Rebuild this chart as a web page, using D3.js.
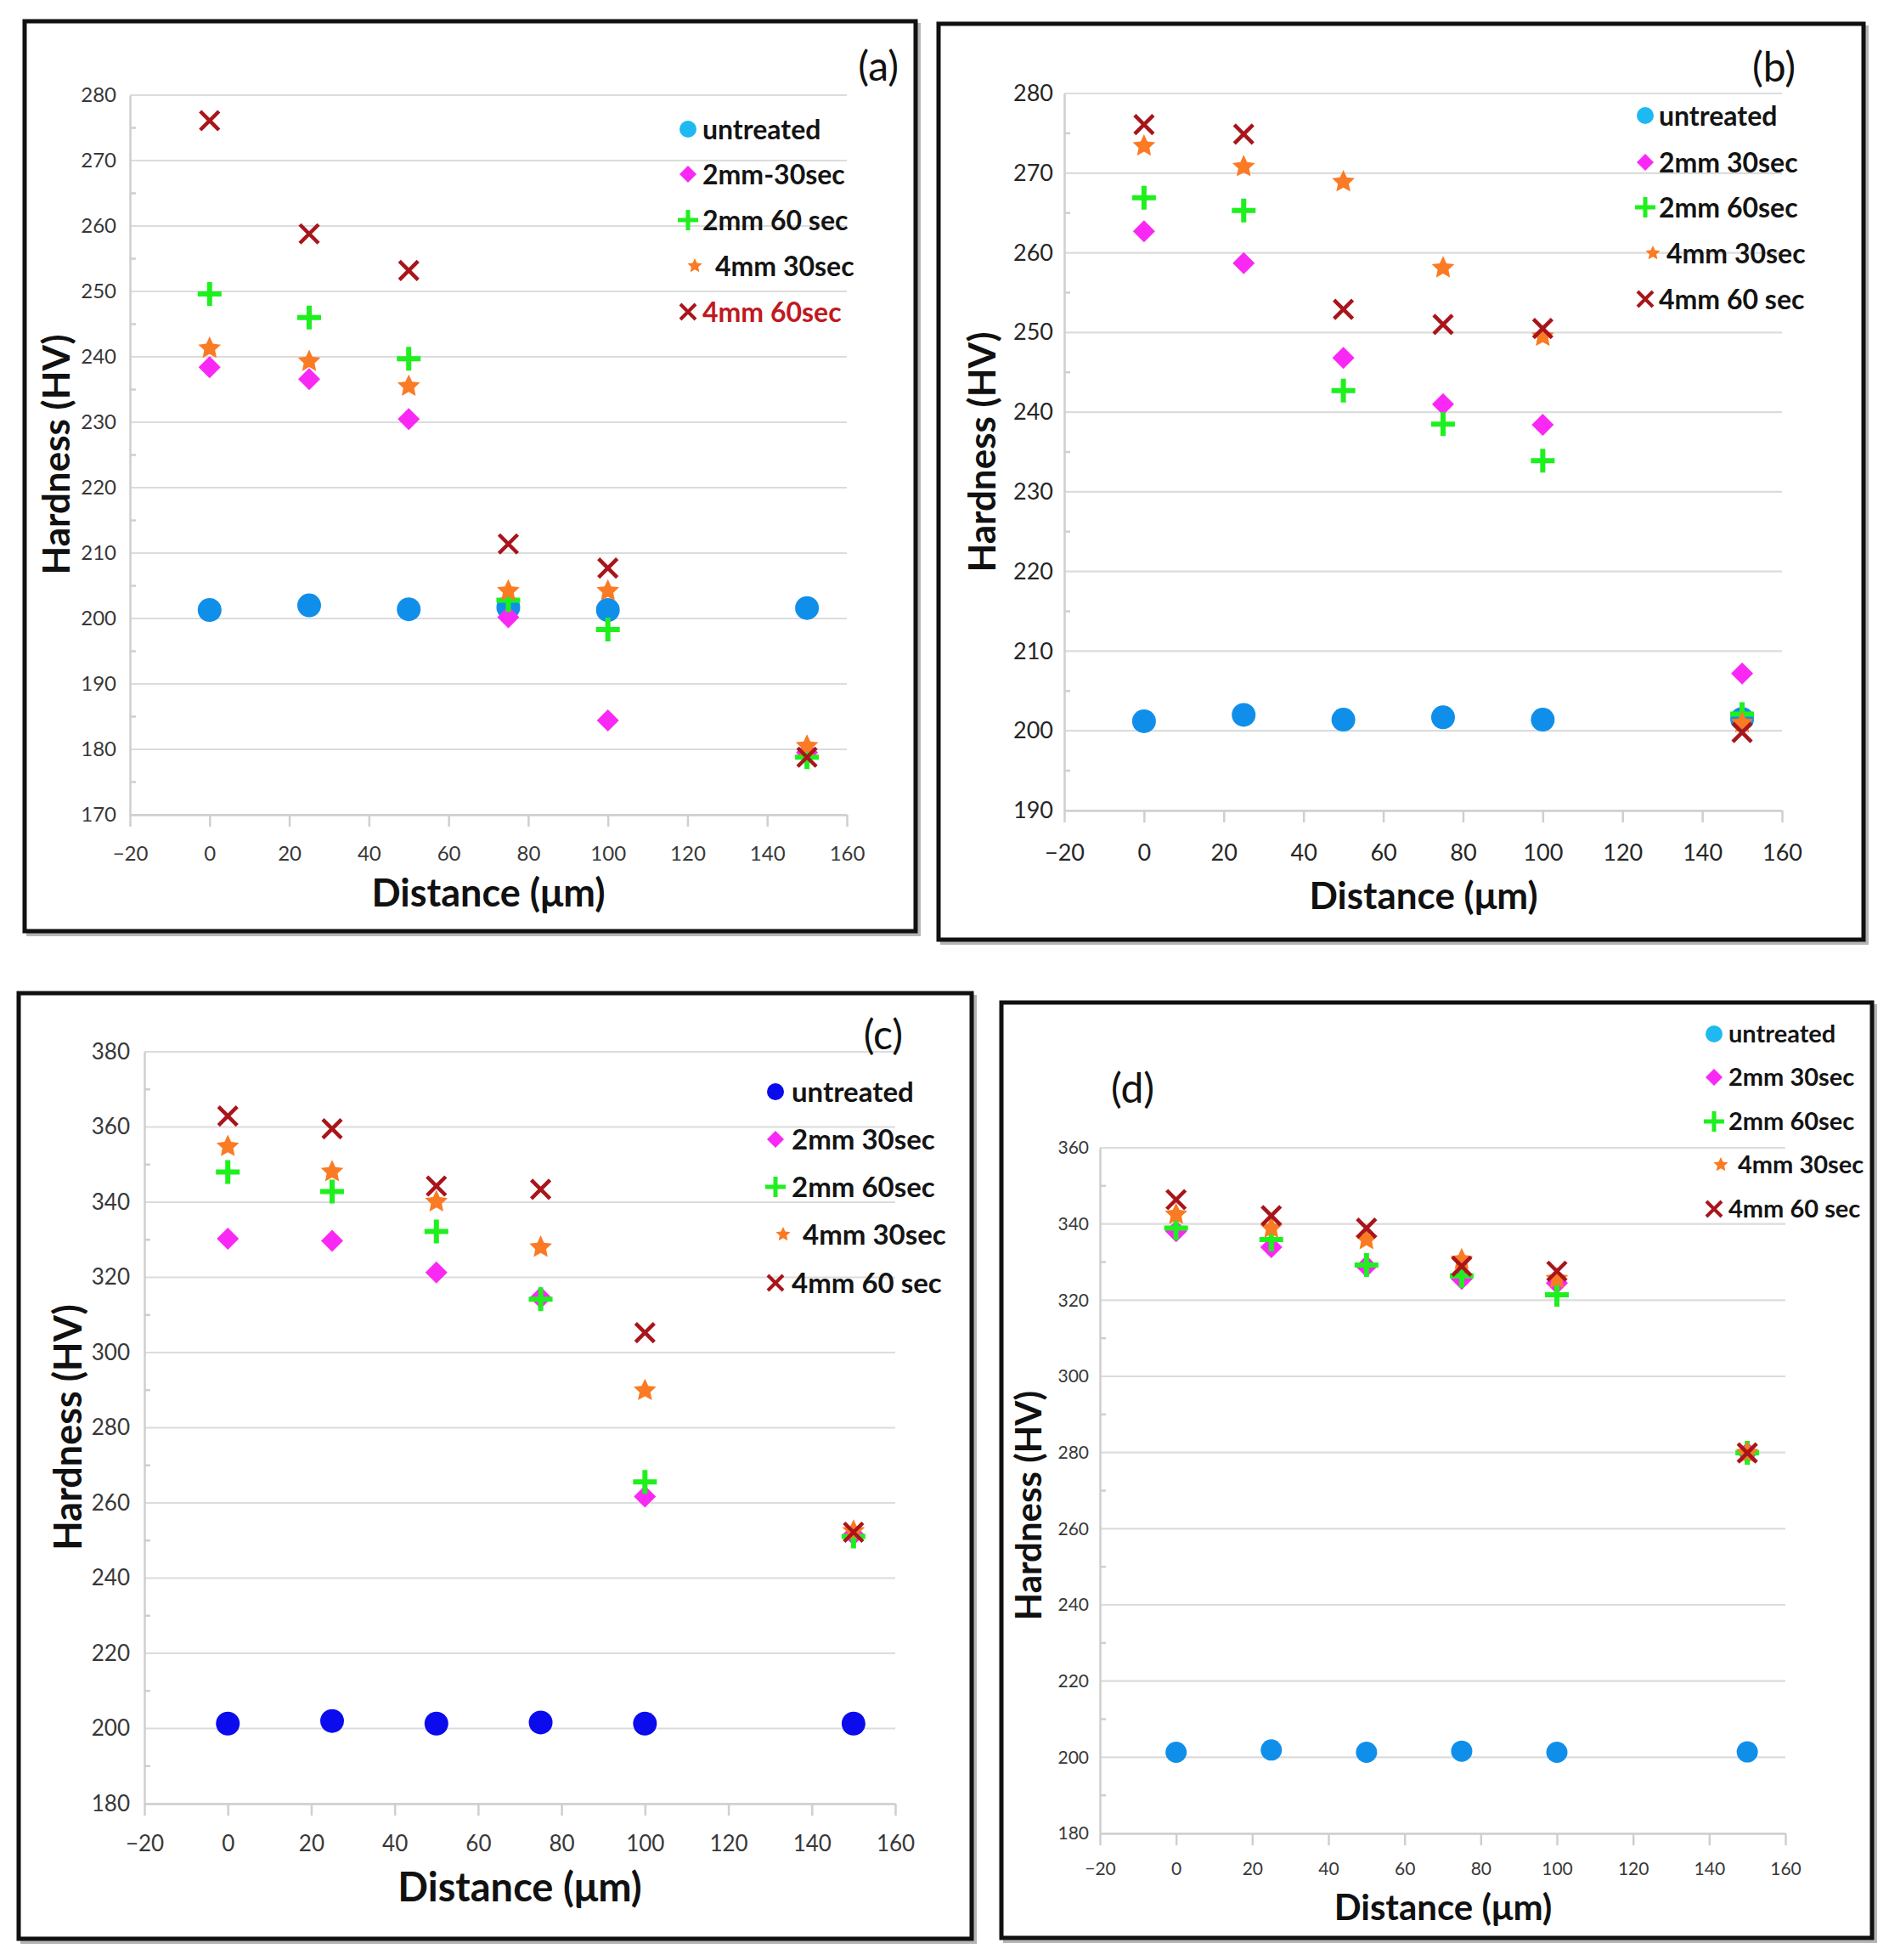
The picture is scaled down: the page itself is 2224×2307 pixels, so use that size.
<!DOCTYPE html>
<html><head><meta charset="utf-8">
<script src="https://cdn.jsdelivr.net/npm/d3@7"></script>
<style>body{margin:0;background:#fff}svg{display:block}</style>
</head><body>
<svg id="chart" width="2224" height="2307"></svg>
<script>
// ---------------- DATA ----------------
const distances = [0, 25, 50, 75, 100, 150];
const xTickValues = [-20, 0, 20, 40, 60, 80, 100, 120, 140, 160];

// panel (a)
const namesA = ["untreated", "2mm-30sec", "2mm 60 sec", "4mm 30sec", "4mm 60sec"];
const aUntreated = [201.3, 202.0, 201.4, 201.7, 201.3, 201.6];
const a2mm30 = [238.4, 236.6, 230.5, 200.2, 184.4, 179.5];
const a2mm60 = [249.6, 246.0, 239.7, 202.8, 198.3, 178.8];
const a4mm30 = [241.3, 239.3, 235.5, 204.2, 204.2, 180.5];
const a4mm60 = [276.1, 258.8, 253.2, 211.4, 207.7, 178.8];
const yTicksA = [170, 180, 190, 200, 210, 220, 230, 240, 250, 260, 270, 280];

// panel (b)
const namesB = ["untreated", "2mm 30sec", "2mm 60sec", "4mm 30sec", "4mm 60 sec"];
const bUntreated = [201.2, 202.0, 201.4, 201.7, 201.4, 201.5];
const b2mm30 = [262.7, 258.7, 246.8, 241.0, 238.4, 207.2];
const b2mm60 = [266.9, 265.3, 242.7, 238.5, 233.9, 202.1];
const b4mm30 = [273.4, 270.8, 268.9, 258.1, 249.5, 201.0];
const b4mm60 = [276.1, 274.9, 252.9, 251.0, 250.5, 199.8];
const yTicksB = [190, 200, 210, 220, 230, 240, 250, 260, 270, 280];

// panel (c)
const namesC = ["untreated", "2mm 30sec", "2mm 60sec", "4mm 30sec", "4mm 60 sec"];
const cUntreated = [201.3, 202.0, 201.3, 201.6, 201.3, 201.3];
const c2mm30 = [330.3, 329.7, 321.3, 314.6, 261.7, 251.6];
const c2mm60 = [348.0, 342.8, 332.2, 314.2, 265.6, 251.1];
const c4mm30 = [354.8, 348.1, 340.1, 328.0, 289.9, 252.5];
const c4mm60 = [362.9, 359.5, 344.3, 343.4, 305.3, 252.2];
const yTicksC = [180, 200, 220, 240, 260, 280, 300, 320, 340, 360, 380];

// panel (d)
const namesD = ["untreated", "2mm 30sec", "2mm 60sec", "4mm 30sec", "4mm 60 sec"];
const dUntreated = [201.3, 201.9, 201.3, 201.6, 201.3, 201.4];
const d2mm30 = [338.1, 333.9, 328.9, 325.6, 324.5, 279.9];
const d2mm60 = [338.9, 335.9, 329.2, 326.4, 321.4, 279.9];
const d4mm30 = [342.5, 338.9, 335.9, 330.6, 325.6, 279.9];
const d4mm60 = [346.4, 342.2, 338.9, 328.9, 327.6, 279.9];
const yTicksD = [180, 200, 220, 240, 260, 280, 300, 320, 340, 360];

const panelLabels = ["(a)", "(b)", "(c)", "(d)"];
const xTitle = "Distance (\u03bcm)";
const yTitle = "Hardness (HV)";

// ---------------- STYLE / LAYOUT ----------------
const markerTypes = ["circle", "diamond", "plus", "star", "x"];
const colors = {
  circle: "#108fea", circleLegend: "#1fb9f2", circleC: "#0b0bee",
  diamond: "#fa28f5", plus: "#1ef01e", star: "#fb7a24", x: "#a8151b"
};

const panels = [
  { label: panelLabels[0], names: namesA, series: [aUntreated, a2mm30, a2mm60, a4mm30, a4mm60], yTicks: yTicksA,
    box: [29, 25, 1078, 1096], px: [153, 997], py: [959, 112], minorStep: 5,
    tickFont: 24, tickColor: "#383838", yGap: 16, xLabOff: 46,
    xt: { x: 575, y: 1067, size: 45 }, yt: { x: 82, y: 535, size: 44 },
    lab: { x: 1058, y: 95, size: 48, anchor: "end" },
    leg: { mx: 810, tx: 827, smx: 818, stx: 842, rows: [152, 205, 259, 313, 367], size: 32 },
    circleColor: colors.circle, circleLegend: colors.circleLegend, redLast: true, r: 14 },
  { label: panelLabels[1], names: namesB, series: [bUntreated, b2mm30, b2mm60, b4mm30, b4mm60], yTicks: yTicksB,
    box: [1105, 28, 2194, 1106], px: [1253, 2098], py: [954, 110], minorStep: 5,
    tickFont: 27, tickColor: "#262626", yGap: 13, xLabOff: 50,
    xt: { x: 1676, y: 1070, size: 44 }, yt: { x: 1172, y: 532, size: 44 },
    lab: { x: 2114, y: 96, size: 48, anchor: "end" },
    leg: { mx: 1937, tx: 1953, smx: 1946, stx: 1962, rows: [136, 191, 244, 298, 352], size: 32 },
    circleColor: colors.circle, circleLegend: colors.circleLegend, redLast: false, r: 14 },
  { label: panelLabels[2], names: namesC, series: [cUntreated, c2mm30, c2mm60, c4mm30, c4mm60], yTicks: yTicksC,
    box: [22, 1169, 1144, 2282], px: [170, 1054], py: [2123, 1238], minorStep: 10,
    tickFont: 26, tickColor: "#383838", yGap: 17, xLabOff: 47,
    xt: { x: 612, y: 2238, size: 47 }, yt: { x: 96, y: 1680, size: 45 },
    lab: { x: 1063, y: 1235, size: 48, anchor: "end" },
    leg: { mx: 913, tx: 932, smx: 922, stx: 945, rows: [1285, 1341, 1397, 1453, 1510], size: 33 },
    circleColor: colors.circleC, circleLegend: colors.circleC, redLast: false, r: 14 },
  { label: panelLabels[3], names: namesD, series: [dUntreated, d2mm30, d2mm60, d4mm30, d4mm60], yTicks: yTicksD,
    box: [1179, 1180, 2204, 2281], px: [1295, 2102], py: [2158, 1351], minorStep: 10,
    tickFont: 21, tickColor: "#383838", yGap: 13, xLabOff: 42,
    xt: { x: 1699, y: 2260, size: 42 }, yt: { x: 1226, y: 1772, size: 42 },
    lab: { x: 1308, y: 1298, size: 48, anchor: "start" },
    leg: { mx: 2018, tx: 2035, smx: 2026, stx: 2046, rows: [1217, 1268, 1320, 1371, 1423], size: 29 },
    circleColor: colors.circle, circleLegend: colors.circleLegend, redLast: false, r: 12.5 }
];

const FONT = "Lato, 'Open Sans', 'DejaVu Sans', sans-serif";

function starPath(R) {
  const inner = R * 0.48, pts = [];
  for (let i = 0; i < 10; i++) {
    const rr = i % 2 === 0 ? R : inner;
    const a = -Math.PI / 2 + i * Math.PI / 5;
    pts.push([rr * Math.cos(a), rr * Math.sin(a)]);
  }
  return "M" + pts.map(p => p[0].toFixed(2) + "," + p[1].toFixed(2)).join("L") + "Z";
}

function drawMarker(g, type, cx, cy, p, legend) {
  const t = `translate(${cx},${cy})`;
  if (type === "circle") {
    const r = legend ? 10 : p.r;
    g.append("circle").attr("cx", cx).attr("cy", cy).attr("r", r)
      .attr("fill", legend ? p.circleLegend : p.circleColor);
  } else if (type === "diamond") {
    const h = legend ? 10 : 13;
    g.append("path").attr("transform", t)
      .attr("d", `M0,${-h}L${h},0L0,${h}L${-h},0Z`).attr("fill", colors.diamond);
  } else if (type === "plus") {
    const h = legend ? 12 : 14;
    g.append("path").attr("transform", t)
      .attr("d", `M${-h},0H${h}M0,${-h}V${h}`).attr("stroke", colors.plus)
      .attr("stroke-width", legend ? 5 : 6).attr("fill", "none");
  } else if (type === "star") {
    const R = legend ? 9 : 14;
    g.append("path").attr("transform", t).attr("d", starPath(R)).attr("fill", colors.star);
  } else if (type === "x") {
    const h = legend ? 9 : 11;
    g.append("path").attr("transform", t)
      .attr("d", `M${-h},${-h}L${h},${h}M${-h},${h}L${h},${-h}`).attr("stroke", colors.x)
      .attr("stroke-width", legend ? 4 : 4.5).attr("fill", "none");
  }
}

const svg = d3.select("#chart");
svg.append("rect").attr("width", 2224).attr("height", 2307).attr("fill", "#fff");

panels.forEach(p => {
  const g = svg.append("g");
  const [bx0, by0, bx1, by1] = p.box;
  // frame shadow + frame
  g.append("rect").attr("x", bx0 + 4).attr("y", by0 + 4).attr("width", bx1 - bx0).attr("height", by1 - by0)
    .attr("fill", "none").attr("stroke", "#b5b5b5").attr("stroke-width", 4);
  g.append("rect").attr("x", bx0).attr("y", by0).attr("width", bx1 - bx0).attr("height", by1 - by0)
    .attr("fill", "#fff").attr("stroke", "#111").attr("stroke-width", 5);

  const x = d3.scaleLinear().domain([-20, 160]).range(p.px);
  const yDom = d3.extent(p.yTicks);
  const y = d3.scaleLinear().domain(yDom).range(p.py);

  // gridlines
  g.append("g").selectAll("line").data(p.yTicks).join("line")
    .attr("x1", p.px[0]).attr("x2", p.px[1])
    .attr("y1", d => y(d)).attr("y2", d => y(d))
    .attr("stroke", "#dcdcdc").attr("stroke-width", 2.2);

  // minor ticks on y axis (inside)
  const minors = d3.range(yDom[0] + p.minorStep, yDom[1], p.minorStep * 2);
  g.append("g").selectAll("line").data(minors).join("line")
    .attr("x1", p.px[0]).attr("x2", p.px[0] + 7)
    .attr("y1", d => y(d)).attr("y2", d => y(d))
    .attr("stroke", "#cfcfcf").attr("stroke-width", 2.5);

  // x axis
  const xAxis = d3.axisBottom(x).tickValues(xTickValues)
    .tickFormat(d => d < 0 ? "\u2212" + Math.abs(d) : String(d))
    .tickSize(14).tickSizeOuter(0);
  const gx = g.append("g").attr("transform", `translate(0,${p.py[0]})`).call(xAxis);
  gx.select(".domain").attr("stroke", "#cfcfcf").attr("stroke-width", 2.5);
  gx.selectAll(".tick line").attr("stroke", "#cfcfcf").attr("stroke-width", 2.5);
  gx.selectAll(".tick text").attr("font-family", FONT).attr("font-size", p.tickFont)
    .attr("fill", p.tickColor).attr("dy", "0.35em")
    .attr("y", p.xLabOff);

  // y axis
  const yAxis = d3.axisLeft(y).tickValues(p.yTicks).tickSize(0).tickSizeOuter(0).tickPadding(p.yGap);
  const gy = g.append("g").attr("transform", `translate(${p.px[0]},0)`).call(yAxis);
  gy.select(".domain").attr("stroke", "#cfcfcf").attr("stroke-width", 2.5);
  gy.selectAll(".tick text").attr("font-family", FONT).attr("font-size", p.tickFont)
    .attr("fill", p.tickColor);

  // data
  p.series.forEach((vals, si) => {
    const sg = g.append("g");
    vals.forEach((v, i) => drawMarker(sg, markerTypes[si], x(distances[i]), y(v), p, false));
  });

  // axis titles
  g.append("text").attr("x", p.xt.x).attr("y", p.xt.y).attr("text-anchor", "middle")
    .attr("font-family", FONT).attr("font-weight", 700).attr("font-size", p.xt.size)
    .attr("fill", "#111").text(xTitle);
  g.append("text").attr("transform", `translate(${p.yt.x},${p.yt.y}) rotate(-90)`)
    .attr("text-anchor", "middle")
    .attr("font-family", FONT).attr("font-weight", 700).attr("font-size", p.yt.size)
    .attr("fill", "#111").text(yTitle);

  // panel label
  g.append("text").attr("x", p.lab.x).attr("y", p.lab.y).attr("text-anchor", p.lab.anchor)
    .attr("font-family", FONT).attr("font-size", p.lab.size).attr("fill", "#111").text(p.label);

  // legend
  p.names.forEach((name, i) => {
    const type = markerTypes[i];
    const isStar = type === "star";
    const ry = p.leg.rows[i];
    drawMarker(g, type, isStar ? p.leg.smx : p.leg.mx, ry, p, true);
    g.append("text").attr("x", isStar ? p.leg.stx : p.leg.tx).attr("y", ry).attr("dy", "0.36em")
      .attr("font-family", FONT).attr("font-weight", 700).attr("font-size", p.leg.size)
      .attr("fill", (p.redLast && i === 4) ? "#c0191f" : "#141414").text(name);
  });
});
</script>
</body></html>
